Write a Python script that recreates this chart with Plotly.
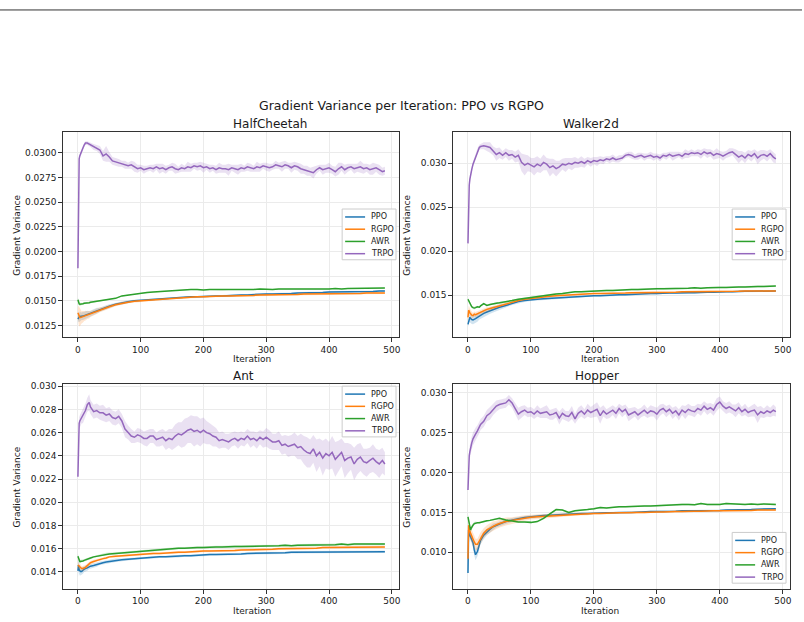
import plotly.graph_objects as go

# ---------------- data (all variance values in units of 1e-4) ----------------
UNIT = 1e-4
ENVS = ["HalfCheetah", "Walker2d", "Ant", "Hopper"]
ALGOS = ["PPO", "RGPO", "AWR", "TRPO"]

ITER_TRPO = [0, 1, 2, 3, 4, 6, 8, 10, 12, 15, 18] + list(range(20, 486, 5)) + [489]
ITER_SMOOTH = [0, 1, 2, 3, 4, 5, 6, 8, 10, 12, 15, 18, 20, 25, 30, 35, 40, 45] + list(range(50, 481, 10)) + [489]

# ---- HalfCheetah ----
HC_PPO = [131.5, 133, 133.5, 134, 134, 134, 134.5, 134.5, 135, 135.5,
          136, 136.5, 137, 138.5, 140, 141, 142.5, 143.5, 144.5, 146.5,
          148, 149, 150, 150.5, 151, 151.5, 152, 152.5, 153, 153,
          153.5, 154, 154, 154.5, 154.5, 155, 155, 155.5, 155.5, 156,
          156, 156.5, 156.5, 157, 157, 157, 157.5, 157.5, 158, 158,
          158, 158.5, 158.5, 159, 159, 159, 159, 159.5, 159.5, 159.5,
          159.5, 160, 160]
HC_PPO_SD = [3, 4, 5, 5, 5, 4, 4, 4, 4, 4,
             4, 3, 3, 3, 3, 2, 2, 2, 2, 1.5,
             1.5, 1.5, 1, 1, 1, 1, 1, 1, 1, 1,
             1, 1, 1, 1, 1, 1, 1, 1, 1, 1,
             1, 1, 1, 1, 1, 1, 1, 1, 1, 1,
             1, 1, 1, 1, 1, 1, 1, 1, 1, 1,
             1, 1, 1]
HC_RGPO = [138, 136, 134, 133, 133, 133.5, 133.5, 134, 134.5, 135,
           135.5, 136, 136.5, 138, 139.5, 141, 142, 143, 144, 146,
           147.5, 148.5, 149.5, 150, 150.5, 151, 151.5, 152, 152.5, 153,
           153, 153.5, 154, 154, 154.5, 154.5, 155, 155, 155, 155.5,
           155.5, 155.5, 156, 156, 156, 156.5, 156.5, 156.5, 156.5, 157,
           157, 157, 157, 157, 157.5, 157.5, 157.5, 157.5, 157.5, 158,
           158, 158, 158]
HC_RGPO_SD = [6, 9, 10, 9, 8, 7, 6, 6, 5, 5,
              4, 4, 3, 3, 3, 2.5, 2, 2, 2, 1.5,
              1.5, 1, 1, 1, 1, 1, 1, 1, 1, 1,
              1, 1, 1, 1, 1, 1, 1, 1, 1, 1,
              1, 1, 1, 1, 1, 1, 1, 1, 1, 1,
              1, 1, 1, 1, 1, 1, 1, 1, 1, 1,
              1, 1, 1]
HC_AWR = [151, 148, 147, 146.5, 146.5, 146.5, 147, 147, 147.5, 147.5,
          148, 148, 148.5, 149, 149.5, 150, 150.5, 151, 151.5, 152.5,
          155, 156, 157, 158, 158.5, 159, 159.5, 160, 160.5, 161,
          161, 161.5, 161.5, 161, 161.5, 161.5, 161, 161.5, 161.5, 161.5,
          161.5, 161.5, 162, 161.5, 161.5, 162, 162, 161.5, 162, 162,
          162, 162, 162, 162, 162.5, 162, 162.5, 162.5, 162.5, 162.5,
          162.5, 163, 163]
HC_AWR_SD = [2, 2, 2, 1.5, 1.5, 1, 1, 1, 1, 1,
             1, 1, 1, 0.5, 0.5, 0.5, 0.5, 0.5, 0.5, 0.5,
             0.5, 0.5, 0.5, 0.5, 0.5, 0.5, 0.5, 0.5, 0.5, 0.5,
             0.5, 0.5, 0.5, 0.5, 0.5, 0.5, 0.5, 0.5, 0.5, 0.5,
             0.5, 0.5, 0.5, 0.5, 0.5, 0.5, 0.5, 0.5, 0.5, 0.5,
             0.5, 0.5, 0.5, 0.5, 0.5, 0.5, 0.5, 0.5, 0.5, 0.5,
             0.5, 0.5, 0.5]
HC_TRPO = [183, 272, 294, 297, 299, 302, 305, 308, 310, 310,
           309, 308, 306, 305, 303, 297, 299, 296, 292, 291,
           290, 289, 288, 287, 288, 286, 284, 285, 283, 284,
           285, 284, 286, 284, 285, 283, 285, 286, 284, 283,
           285, 284, 286, 285, 287, 286, 287, 285, 286, 284,
           285, 283, 285, 284, 284, 283, 285, 284, 283, 285,
           284, 286, 285, 284, 286, 285, 287, 286, 285, 286,
           288, 287, 286, 288, 287, 285, 287, 286, 284, 283,
           282, 281, 280, 283, 285, 283, 284, 285, 283, 281,
           284, 286, 283, 285, 286, 284, 285, 286, 284, 285,
           283, 284, 285, 283, 281, 282]
HC_TRPO_SD = [0, 3, 3, 2, 2, 2, 2, 2, 2, 2,
              2, 2, 3, 3, 4, 5, 8, 5, 4, 4,
              4, 3, 4, 3, 4, 5, 4, 3, 4, 3,
              3, 4, 3, 5, 4, 4, 3, 4, 5, 3,
              4, 3, 5, 4, 3, 4, 4, 5, 3, 4,
              3, 4, 5, 4, 4, 6, 3, 4, 5, 4,
              3, 4, 4, 3, 5, 4, 3, 4, 4, 3,
              4, 3, 5, 4, 3, 5, 4, 4, 5, 4,
              5, 4, 6, 4, 3, 5, 4, 5, 4, 5,
              6, 4, 5, 4, 3, 5, 4, 6, 5, 4,
              5, 6, 4, 5, 4, 4]

# ---- Walker2d ----
W_PPO = [117, 121, 124, 125, 124, 123, 122.5, 122, 122.5, 123.5,
         125, 126.5, 127.5, 129.5, 131, 132.5, 134, 135, 136.5, 138.5,
         141, 143, 144, 145, 145.5, 146, 146.5, 147, 147.5, 148,
         148.5, 148.5, 149, 149.5, 149.5, 150, 150, 150.5, 150.5, 151,
         151, 151.5, 152, 152, 152.5, 152.5, 152.5, 153, 153, 153,
         153.5, 153.5, 153.5, 154, 154, 154, 154.5, 154.5, 154.5, 154.5,
         155, 155, 155]
W_PPO_SD = [3, 4, 4, 5, 5, 5, 5, 5, 5, 5,
            5, 4, 4, 4, 4, 3.5, 3.5, 3, 3, 2.5,
            2, 2, 1.5, 1.5, 1.5, 1.5, 1.5, 1, 1, 1,
            1, 1, 1, 1, 1, 1, 1, 1, 1, 1,
            1, 1, 1, 1, 1, 1, 1, 1, 1, 1,
            1, 1, 1, 1, 1, 1, 1, 1, 1, 1,
            1, 1, 1]
W_RGPO = [125, 133, 132, 130, 129, 128, 127.5, 127, 128.5, 128,
          129, 130, 131, 132.5, 134, 135, 136, 137, 138.5, 140.5,
          142.5, 144, 145.5, 146.5, 147.5, 148.5, 149, 149.5, 150, 150.5,
          151, 151, 151.5, 152, 152, 152, 152.5, 152.5, 152.5, 153,
          153, 153, 153, 153.5, 153.5, 153.5, 153.5, 154, 154, 154,
          154, 154, 154.5, 154.5, 154.5, 154.5, 154.5, 155, 155, 155,
          155, 155, 155]
W_RGPO_SD = [4, 5, 5, 5, 4, 4, 4, 3, 3, 3,
             3, 3, 3, 2.5, 2.5, 2, 2, 2, 2, 1.5,
             1, 1, 1, 1, 1, 1, 1, 1, 1, 1,
             1, 1, 1, 1, 1, 1, 1, 1, 1, 1,
             1, 1, 1, 1, 1, 1, 1, 1, 1, 1,
             1, 1, 1, 1, 1, 1, 1, 1, 1, 1,
             1, 1, 1]
W_AWR = [145.5, 144, 142.5, 141, 140, 138.5, 137, 136, 135.5, 136,
         137, 136.5, 138, 140.5, 138.5, 139.5, 140.5, 141, 141.5, 142.5,
         144, 145.5, 146.5, 147.5, 148.5, 150, 151, 151.5, 152, 153,
         154, 154, 154.5, 155, 155.5, 155.5, 155.5, 156, 156, 156.5,
         156.5, 157, 157, 157.5, 157.5, 157.5, 158, 158, 158, 158.5,
         158, 158.5, 159, 159, 159, 159.5, 159.5, 159.5, 160, 160,
         160, 160.5, 160.5]
W_AWR_SD = [2, 2, 2, 2, 2, 1.5, 1.5, 1.5, 1.5, 1.5,
            1, 1, 1, 1, 1, 1, 1, 1, 1, 1,
            1, 1, 1, 1, 1, 1, 1, 1, 1, 1,
            1, 1, 1, 1, 1, 1, 1, 1, 1, 1,
            1, 1, 1, 1, 1, 1, 1, 1, 1, 1,
            1, 1, 1, 1, 1, 1, 1, 1, 1, 1,
            1, 1, 1]
W_TRPO = [209, 255, 275, 282, 287, 293, 299, 303, 308, 314,
          318, 319, 320, 319, 318, 314, 310, 312, 309, 312,
          309, 310, 307, 309, 301, 298, 300, 298, 296, 299,
          297, 301, 299, 295, 297, 294, 296, 299, 298, 300,
          299, 301, 300, 302, 300, 303, 301, 303, 302, 304,
          303, 305, 304, 306, 304, 305, 306, 309, 310, 309,
          307, 308, 309, 307, 308, 309, 307, 308, 306, 309,
          308, 310, 308, 309, 310, 308, 311, 310, 312, 311,
          312, 310, 313, 311, 312, 309, 311, 310, 308, 310,
          312, 313, 310, 307, 309, 306, 310, 308, 311, 306,
          309, 310, 308, 311, 307, 305]
W_TRPO_SD = [0, 3, 4, 4, 3, 3, 3, 3, 3, 3,
             3, 3, 4, 5, 6, 5, 7, 6, 5, 5,
             6, 5, 6, 7, 10, 12, 9, 8, 10, 9,
             8, 9, 7, 10, 8, 9, 7, 6, 8, 6,
             7, 6, 5, 6, 5, 4, 5, 4, 5, 4,
             4, 3, 4, 4, 3, 4, 3, 3, 3, 4,
             3, 4, 3, 4, 3, 4, 4, 3, 4, 3,
             4, 3, 5, 4, 3, 4, 5, 4, 4, 3,
             4, 5, 4, 5, 4, 5, 6, 4, 5, 4,
             5, 4, 6, 7, 5, 6, 5, 6, 5, 7,
             6, 5, 6, 5, 6, 5]

# ---- Ant ----
A_PPO = [141, 146, 142, 141, 140.5, 140.5, 140.5, 141.5, 142.5, 143,
         143.5, 144.5, 145, 145.5, 146.5, 147.5, 148, 148.5, 149, 150,
         150.5, 151, 151.5, 152, 152.5, 152.5, 153, 153, 153.5, 153.5,
         154, 154, 154.5, 154.5, 155, 155, 155, 155.5, 155.5, 155.5,
         156, 156, 156, 156.5, 156.5, 156.5, 156.5, 157, 157, 157,
         157, 157, 157, 157, 157, 157, 157, 157.5, 157, 157.5,
         157.5, 157.5, 157.5]
A_PPO_SD = [6, 5, 4, 4, 3.5, 3, 3, 3, 2.5, 2.5,
            2.5, 2, 2, 2, 2, 1.5, 1.5, 1.5, 1.5, 1.5,
            1, 1, 1, 1, 1, 1, 1, 1, 1, 1,
            1, 1, 1, 1, 1, 1, 1, 1, 1, 1,
            1, 1, 1, 1, 1, 1, 1, 1, 1, 1,
            1, 1, 1, 1, 1, 1, 1, 1, 1, 1,
            1, 1, 1]
A_RGPO = [146, 145.5, 145, 144.5, 144, 143.5, 143, 143, 143.5, 144,
          145.5, 147, 148, 149, 150, 151, 151.5, 152, 153, 153.5,
          154, 154.5, 155, 155, 155.5, 156, 156, 156.5, 156.5, 157,
          157, 157.5, 157.5, 158, 158, 158, 158.5, 158.5, 158.5, 159,
          159, 159, 159.5, 159.5, 159.5, 160, 160, 160, 160.5, 160.5,
          160.5, 160.5, 161, 161, 161, 161, 161, 161.5, 161.5, 161.5,
          161.5, 161.5, 161.5]
A_RGPO_SD = [3, 3, 3, 2.5, 2.5, 2.5, 2, 2, 2, 2,
             2, 1.5, 1.5, 1.5, 1, 1, 1, 1, 1, 1,
             1, 1, 1, 1, 1, 1, 1, 1, 1, 1,
             1, 1, 1, 1, 1, 1, 1, 1, 1, 1,
             1, 1, 1, 1, 1, 1, 1, 1, 1, 1,
             1, 1, 1, 1, 1, 1, 1, 1, 1, 1,
             1, 1, 1]
A_AWR = [153.5, 151, 149.5, 149, 149, 149, 149.5, 149.5, 150, 150.5,
         151, 151.5, 152, 153, 153.5, 154.5, 155, 155.5, 155.5, 156,
         156.5, 157, 157.5, 158, 158.5, 159, 159, 159.5, 160, 160.5,
         160.5, 161, 161, 161, 161.5, 161.5, 161.5, 162, 162, 162,
         162, 162, 162.5, 162.5, 162.5, 162.5, 163, 162.5, 163, 163,
         163, 163, 163.5, 163.5, 163.5, 164, 163.5, 164, 164, 164,
         164, 164, 164]
A_AWR_SD = [2, 2, 1.5, 1.5, 1.5, 1.5, 1, 1, 1, 1,
            1, 1, 1, 1, 1, 1, 1, 1, 1, 1,
            1, 1, 1, 1, 1, 1, 1, 1, 1, 1,
            1, 1, 1, 1, 1, 1, 1, 1, 1, 1,
            1, 1, 1, 1, 1, 1, 1, 1, 1, 1,
            1, 1, 1, 1, 1, 1, 1, 1, 1, 1,
            1, 1, 1]
A_TRPO = [222, 266, 268, 270, 271, 273, 274, 276, 279, 284,
          286, 282, 278, 279, 277, 277, 275, 276, 273, 272,
          274, 270, 263, 260, 257, 256, 258, 257, 255, 255,
          257, 257, 254, 255, 256, 253, 255, 254, 257, 259,
          258, 260, 262, 263, 261, 262, 260, 262, 260, 259,
          257, 256, 253, 254, 253, 252, 254, 255, 253, 255,
          254, 257, 254, 255, 253, 256, 254, 256, 254, 252,
          252, 253, 249, 250, 248, 249, 250, 247, 248, 245,
          243, 242, 246, 240, 243, 238, 242, 240, 243, 237,
          240, 243, 236, 238, 239, 233, 237, 239, 235, 234,
          236, 238, 235, 233, 236, 233]
A_TRPO_SD = [0, 5, 5, 5, 5, 5, 6, 6, 6, 6,
             7, 6, 6, 6, 6, 7, 6, 6, 6, 6,
             6, 6, 7, 6, 6, 5, 6, 6, 6, 7,
             6, 6, 6, 7, 7, 8, 8, 9, 10, 10,
             11, 12, 11, 12, 13, 12, 12, 11, 10, 9,
             9, 8, 7, 7, 6, 7, 6, 6, 7, 6,
             6, 6, 7, 6, 7, 6, 7, 8, 8, 7,
             7, 8, 8, 8, 9, 9, 10, 10, 11, 12,
             13, 12, 12, 14, 12, 15, 13, 12, 14, 15,
             13, 12, 15, 13, 11, 14, 13, 12, 11, 12,
             11, 12, 11, 12, 11, 10]

# ---- Hopper ----
H_PPO = [74, 128, 124, 121.5, 119.5, 117.5, 116, 112, 103, 97,
         101, 110, 115, 121.5, 125.5, 129, 132, 134, 135.5, 138.5,
         140.5, 142, 143.5, 144.5, 145, 146, 146.5, 147, 147.5, 148,
         148, 148.5, 148.5, 149, 149, 149.5, 149.5, 150, 150, 150,
         150.5, 150.5, 151, 151, 151, 151.5, 151.5, 152, 152, 152,
         152, 152.5, 152.5, 152.5, 153, 153, 153, 153.5, 153.5, 154,
         154, 154.5, 154.5]
H_PPO_SD = [8, 6, 6, 6, 6, 6, 6, 6, 7, 7,
            6, 6, 5, 5, 4, 4, 4, 3, 3, 3,
            2.5, 2.5, 2, 2, 2, 2, 2, 2, 1.5, 1.5,
            1, 1, 1, 1, 1, 1, 1, 1, 1, 1,
            1, 1, 1, 1, 1, 1, 1, 1, 1, 1,
            1, 1, 1, 1, 1, 1, 1, 1, 1, 1,
            1, 1, 1]
H_RGPO = [92, 134, 130, 126, 123.5, 121.5, 120, 116.5, 113, 110,
          110, 114.5, 118, 124, 128, 130.5, 133, 134.5, 136, 138.5,
          140, 141.5, 143, 144, 144.5, 145, 145.5, 146, 146.5, 147,
          147.5, 148, 148, 148.5, 148.5, 149, 149, 149.5, 149.5, 150,
          150, 150, 150.5, 150.5, 150.5, 151, 151, 151, 151.5, 151.5,
          151.5, 152, 152, 152, 152, 152.5, 152.5, 152.5, 152.5, 153,
          153, 153, 153]
H_RGPO_SD = [8, 8, 8, 8, 8, 8, 8, 8, 8, 7,
             7, 7, 7, 6, 6, 6, 6, 5, 5, 5,
             4, 4, 3.5, 3, 3, 3, 2.5, 2.5, 2, 2,
             1.5, 1.5, 1.5, 1, 1, 1, 1, 1, 1, 1,
             1, 1, 1, 1, 1, 1, 1, 1, 1, 1,
             1, 1, 1, 1, 1, 1, 1, 1, 1, 1,
             1, 1, 1]
H_AWR = [144.5, 140, 136, 131, 128, 130, 132, 134, 136, 136.5,
         137, 137, 137.5, 138.5, 139.5, 140, 141, 142, 142.5, 140.5,
         139, 138, 138, 137.5, 138.5, 142.5, 148, 153.5, 153, 150,
         152, 152.5, 153.5, 154.5, 156, 155.5, 156.5, 157, 157, 157.5,
         157.5, 158, 158, 158.5, 159, 159, 159.5, 160, 160, 159.5,
         161, 160, 160, 160, 161, 160.5, 160, 160, 160.5, 160,
         160.5, 160, 160]
H_AWR_SD = [3, 3, 3, 3, 3, 3, 2.5, 2.5, 2, 2,
            1, 1, 1, 1, 1, 1, 1, 1, 1, 1,
            1, 1, 1, 1, 1, 1, 1, 1, 1, 1,
            1, 1, 1, 1, 1, 1, 1, 1, 1, 1,
            1, 1, 1, 1, 1, 1, 1, 1, 1, 1,
            1, 1, 1, 1, 1, 1, 1, 1, 1, 1,
            1, 1, 1]
H_TRPO = [178, 214, 221, 226, 231, 237, 242, 246, 248, 252,
          256, 260, 264, 271, 274, 279, 283, 285, 286, 287,
          291, 287, 280, 273, 276, 278, 275, 276, 273, 277,
          274, 275, 276, 272, 273, 275, 268, 274, 271, 270,
          275, 267, 274, 277, 273, 278, 275, 277, 279, 271,
          277, 273, 275, 278, 274, 280, 276, 279, 272, 274,
          276, 272, 275, 278, 274, 277, 276, 273, 278, 280,
          276, 279, 274, 277, 272, 278, 275, 279, 277, 276,
          280, 278, 283, 279, 281, 278, 285, 288, 283, 280,
          282, 279, 277, 281, 276, 279, 275, 277, 278, 272,
          276, 274, 277, 275, 278, 276]
H_TRPO_SD = [0, 6, 7, 8, 8, 8, 8, 8, 8, 7,
             7, 7, 7, 7, 8, 7, 7, 6, 6, 6,
             6, 6, 7, 8, 7, 6, 6, 6, 6, 7,
             6, 7, 8, 6, 7, 6, 8, 7, 6, 7,
             8, 6, 7, 7, 6, 8, 7, 8, 9, 10,
             7, 6, 7, 6, 7, 6, 7, 6, 8, 7,
             6, 7, 6, 7, 6, 7, 6, 8, 7, 6,
             7, 6, 7, 6, 7, 6, 8, 7, 6, 7,
             6, 7, 6, 7, 6, 7, 8, 7, 6, 7,
             7, 6, 8, 7, 6, 7, 6, 7, 8, 10,
             7, 6, 7, 6, 7, 6]

SERIES = {
    "HalfCheetah": {"PPO": (HC_PPO, HC_PPO_SD), "RGPO": (HC_RGPO, HC_RGPO_SD),
                    "AWR": (HC_AWR, HC_AWR_SD), "TRPO": (HC_TRPO, HC_TRPO_SD)},
    "Walker2d": {"PPO": (W_PPO, W_PPO_SD), "RGPO": (W_RGPO, W_RGPO_SD),
                 "AWR": (W_AWR, W_AWR_SD), "TRPO": (W_TRPO, W_TRPO_SD)},
    "Ant": {"PPO": (A_PPO, A_PPO_SD), "RGPO": (A_RGPO, A_RGPO_SD),
            "AWR": (A_AWR, A_AWR_SD), "TRPO": (A_TRPO, A_TRPO_SD)},
    "Hopper": {"PPO": (H_PPO, H_PPO_SD), "RGPO": (H_RGPO, H_RGPO_SD),
               "AWR": (H_AWR, H_AWR_SD), "TRPO": (H_TRPO, H_TRPO_SD)},
}

# ---------------- styling / layout ----------------
FIG_W, FIG_H = 804, 622
COLORS = {"PPO": "#1f77b4", "RGPO": "#ff7f0e", "AWR": "#2ca02c", "TRPO": "#9467bd"}
FILLS = {"PPO": "rgba(31,119,180,0.2)", "RGPO": "rgba(255,127,14,0.2)",
         "AWR": "rgba(44,160,44,0.2)", "TRPO": "rgba(148,103,189,0.2)"}
FONT = "DejaVu Sans, Verdana, sans-serif"
TXT = "#1a1a1a"


def px(x):
    return x / FIG_W


def py(y):
    return 1 - y / FIG_H


PANELS = {
    "HalfCheetah": dict(xd=(63, 400), yd=(130, 336), yr=(0.01129, 0.03209),
                        yt=[0.0125, 0.0150, 0.0175, 0.0200, 0.0225, 0.0250, 0.0275, 0.0300],
                        fmt=".4f", leg=(397, 207)),
    "Walker2d": dict(xd=(454, 792), yd=(130, 336), yr=(0.01022, 0.03351),
                     yt=[0.015, 0.020, 0.025, 0.030], fmt=".3f", leg=(788, 207)),
    "Ant": dict(xd=(63, 400), yd=(383, 589), yr=(0.01252, 0.03017),
                yt=[0.014, 0.016, 0.018, 0.020, 0.022, 0.024, 0.026, 0.028, 0.030],
                fmt=".3f", leg=(397, 385)),
    "Hopper": dict(xd=(454, 792), yd=(383, 589), yr=(0.00539, 0.03105),
                   yt=[0.010, 0.015, 0.020, 0.025, 0.030], fmt=".3f", leg=(788, 532)),
}

fig = go.Figure()
layout = dict(width=FIG_W, height=FIG_H, margin=dict(l=0, r=0, t=0, b=0),
              paper_bgcolor="white", plot_bgcolor="white", showlegend=False,
              font=dict(family=FONT, color=TXT), annotations=[], shapes=[])

for i, env in enumerate(ENVS):
    n = i + 1
    sfx = "" if n == 1 else str(n)
    p = PANELS[env]
    for algo in ALGOS:
        mean, sd = SERIES[env][algo]
        xs = ITER_TRPO if algo == "TRPO" else ITER_SMOOTH
        if len(mean) != len(xs) or len(sd) != len(xs):
            raise ValueError(f"{env} {algo}: {len(mean)} / {len(sd)} vs {len(xs)}")
        m = [v * UNIT for v in mean]
        s = [v * UNIT for v in sd]
        up = [a + b for a, b in zip(m, s)]
        lo = [a - b for a, b in zip(m, s)]
        fig.add_trace(go.Scatter(x=xs + xs[::-1], y=up + lo[::-1], fill="toself",
                                 fillcolor=FILLS[algo], line=dict(width=0), mode="lines",
                                 hoverinfo="skip", showlegend=False,
                                 xaxis="x" + sfx, yaxis="y" + sfx))
        fig.add_trace(go.Scatter(x=xs, y=m, mode="lines", name=algo,
                                 line=dict(color=COLORS[algo], width=1.5),
                                 showlegend=False, xaxis="x" + sfx, yaxis="y" + sfx))

    common = dict(showline=True, mirror=True, linecolor="#333333", linewidth=1,
                  ticks="outside", ticklen=3.5, tickcolor="#333333", tickwidth=1,
                  showgrid=True, gridcolor="#ebebeb", gridwidth=1, zeroline=False,
                  tickfont=dict(size=9, family=FONT, color=TXT))
    layout["xaxis" + sfx] = dict(common, domain=[px(p["xd"][0]), px(p["xd"][1])],
                                 range=[-24, 511.5], tickvals=[0, 100, 200, 300, 400, 500],
                                 anchor="y" + sfx)
    layout["yaxis" + sfx] = dict(common, domain=[py(p["yd"][1]), py(p["yd"][0])],
                                 range=list(p["yr"]), tickvals=p["yt"], tickformat=p["fmt"],
                                 anchor="x" + sfx)

    # legend box drawn in matplotlib style (right edge, top edge in pixels)
    rx, ty = p["leg"]
    lx = rx - 54
    layout["shapes"].append(dict(type="rect", xref="paper", yref="paper",
                                 x0=px(lx), x1=px(rx), y0=py(ty + 51), y1=py(ty),
                                 fillcolor="rgba(255,255,255,0.85)",
                                 line=dict(color="#cccccc", width=1), layer="above"))
    for k, algo in enumerate(ALGOS):
        yy = ty + 8 + k * 12.3
        layout["shapes"].append(dict(type="line", xref="paper", yref="paper",
                                     x0=px(lx + 3), x1=px(lx + 23), y0=py(yy), y1=py(yy),
                                     line=dict(color=COLORS[algo], width=1.5), layer="above"))
        layout["annotations"].append(dict(text=algo, x=px(lx + 27), y=py(yy), xref="paper",
                                          yref="paper", showarrow=False, xanchor="left",
                                          yanchor="middle",
                                          font=dict(size=8, family=FONT, color=TXT)))

    xc = px((p["xd"][0] + p["xd"][1]) / 2)
    yc = py((p["yd"][0] + p["yd"][1]) / 2)
    layout["annotations"].append(dict(text=env, x=xc, y=py(p["yd"][0] - 8), xref="paper",
                                      yref="paper", showarrow=False, yanchor="middle",
                                      font=dict(size=12, family=FONT, color=TXT)))
    layout["annotations"].append(dict(text="Iteration", x=xc, y=py(p["yd"][1] + 22),
                                      xref="paper", yref="paper", showarrow=False,
                                      yanchor="middle", font=dict(size=9, family=FONT, color=TXT)))
    layout["annotations"].append(dict(text="Gradient Variance", x=px(p["xd"][0] - 46), y=yc,
                                      xref="paper", yref="paper", showarrow=False, textangle=-90,
                                      xanchor="center", yanchor="middle",
                                      font=dict(size=9, family=FONT, color=TXT)))

layout["annotations"].append(dict(text="Gradient Variance per Iteration: PPO vs RGPO",
                                  x=0.5, y=py(103), xref="paper", yref="paper", showarrow=False,
                                  yanchor="middle", font=dict(size=12.5, family=FONT, color=TXT)))
layout["shapes"].append(dict(type="line", xref="paper", yref="paper", x0=0, x1=1,
                             y0=py(7), y1=py(7), line=dict(color="#333333", width=1)))

fig.update_layout(**layout)
fig.write_html("out.html")
